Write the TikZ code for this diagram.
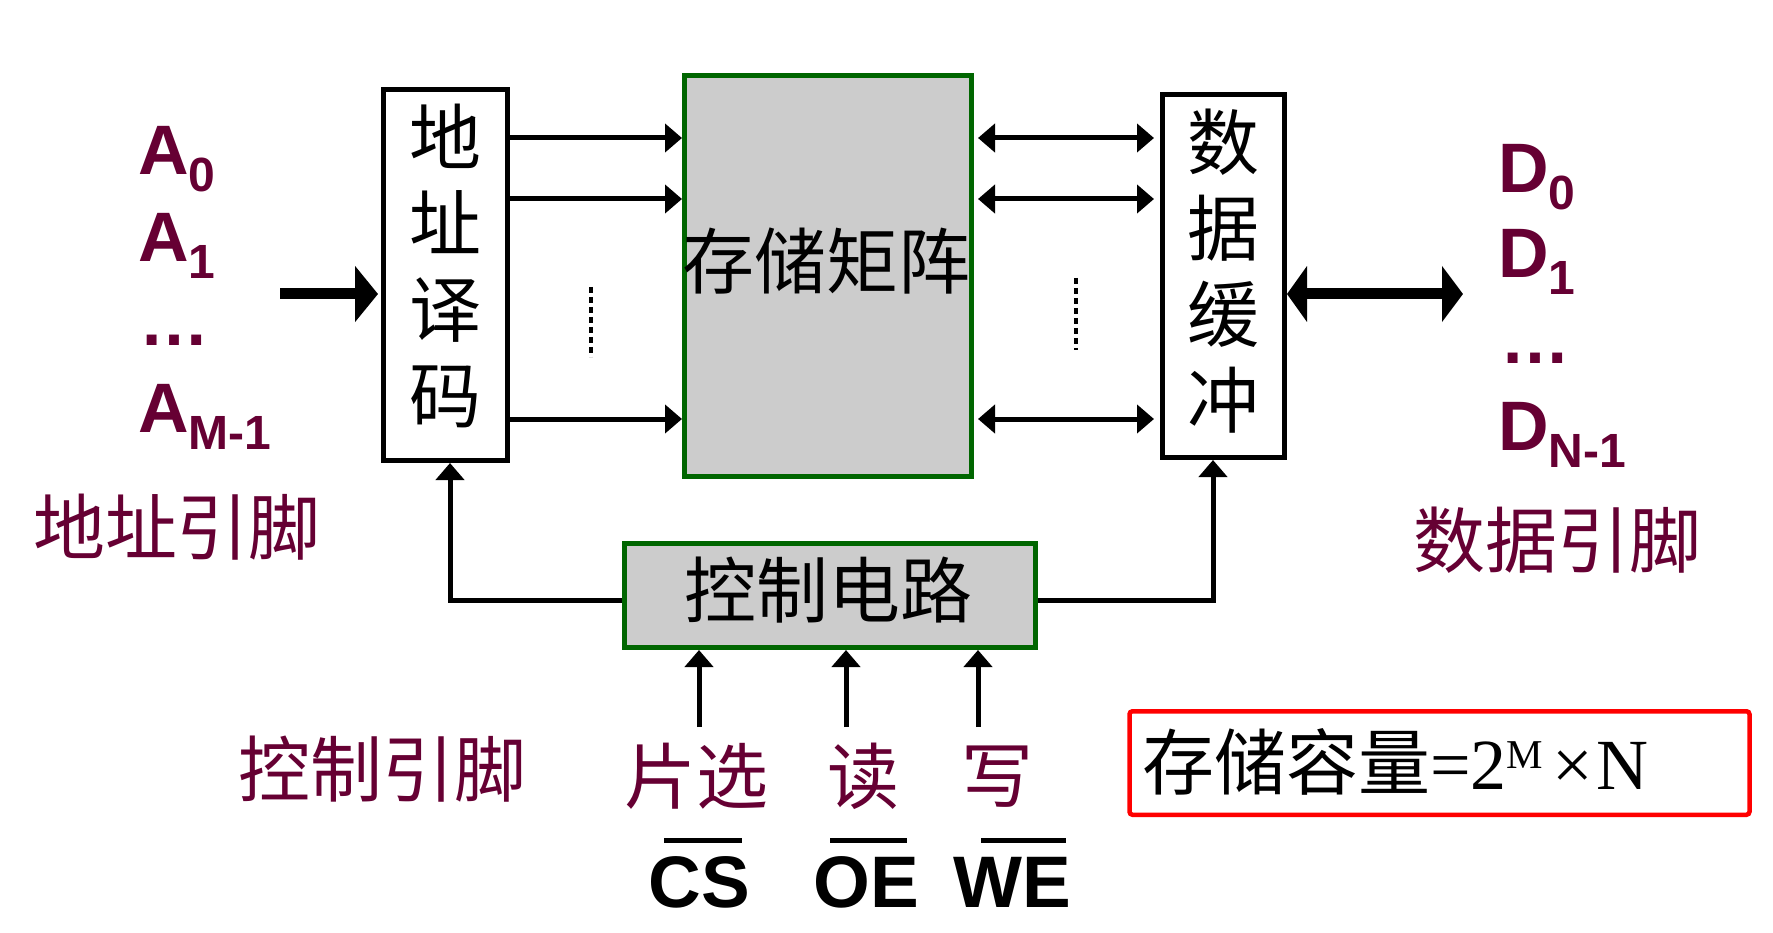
\documentclass[tikz,border=0pt]{standalone}
\usepackage{fontspec}
\usepackage{graphicx}
\setmainfont{Liberation Sans}
\newfontfamily\cjk{Noto Sans CJK SC}
\newfontfamily\tnr{Liberation Serif}
\usetikzlibrary{arrows.meta}
\definecolor{pinred}{RGB}{102,0,51}
\definecolor{dkgreen}{RGB}{0,102,0}
\definecolor{boxgray}{RGB}{204,204,204}
\newcommand\fsz[1]{\fontsize{#1}{#1}\selectfont}
\newcommand\lsub[1]{\raisebox{-17pt}{\fsz{48pt}#1}}
\begin{document}
\begin{tikzpicture}[x=1pt,y=-1pt,
  blk/.style={draw=black,line width=5pt,fill=white,inner sep=0pt},
  gbox/.style={draw=dkgreen,fill=boxgray,line width=5pt,inner sep=0pt},
  cjktxt/.style={font={\cjk\fontsize{72pt}{86pt}\selectfont},inner sep=0pt,align=center},
  conn/.style={line width=5pt,-{Triangle[length=17pt,width=28pt]}},
  bidir/.style={line width=5pt,{Triangle[length=17pt,width=28pt]}-{Triangle[length=17pt,width=28pt]}},
  bigarr/.style={line width=11pt,-{Triangle[length=23pt,width=55pt]}},
  bigbi/.style={line width=11pt,{Triangle[length=20pt,width=55pt]}-{Triangle[length=21pt,width=55pt]}},
  pinlbl/.style={text=pinred,font=\bfseries\fsz{70pt},inner sep=0pt,anchor=base west},
  pincjk/.style={cjktxt,text=pinred},
  sigtxt/.style={font=\bfseries\fsz{73pt},inner sep=0pt,anchor=base},
  overbar/.style={line width=5pt},
  vdots/.style={line width=4pt,dash pattern=on 6pt off 4pt}
]
\useasboundingbox (0,0) rectangle (1773,933);
% boxes
\node[blk,minimum width=124pt,minimum height=371pt] (dec) at (445.5,275) {};
\node[cjktxt] (dectxt) at (445.5,266) {地\\址\\译\\码};
\node[gbox,minimum width=287pt,minimum height=401pt] (mem) at (828,276) {};
\node[cjktxt] (memtxt) at (826,261) {存储矩阵};
\node[blk,minimum width=122pt,minimum height=363pt] (buf) at (1223.5,276) {};
\node[cjktxt] (buftxt) at (1223.5,271) {数\\据\\缓\\冲};
\node[gbox,minimum width=411pt,minimum height=104pt] (ctrl) at (830,595.5) {};
\node[cjktxt] (ctrltxt) at (828,590) {控制电路};
% address pins
\node[pinlbl] (a0) at (138,175) {A\lsub{0}};
\node[pinlbl] (a1) at (138,262) {A\lsub{1}};
\node[pinlbl] (adots) at (139,346) {…};
\node[pinlbl] (am) at (138,432) {A\lsub{M-1}};
\node[pincjk] (alab) at (177,527.5) {地址引脚};
% data pins
\node[pinlbl] (d0) at (1498,193) {D\lsub{0}};
\node[pinlbl] (d1) at (1498,278) {D\lsub{1}};
\node[pinlbl] (ddots) at (1500,363) {…};
\node[pinlbl] (dn) at (1498,450) {D\lsub{N-1}};
\node[pincjk] (dlab) at (1557,540) {数据引脚};
% control pins
\node[pincjk] (clab) at (382,769) {控制引脚};
\node[pincjk] (cs1) at (696.5,776.5) {片选};
\node[pincjk] (oe1) at (863,776.5) {读};
\node[pincjk] (we1) at (997.5,776.5) {写};
\node[sigtxt] (cs) at (699,907) {CS};
\node[sigtxt] (oe) at (866,907) {OE};
\node[sigtxt] (we) at (1012.5,907) {WE};
\draw[overbar] (664,840) -- (742,840);
\draw[overbar] (830,840) -- (907,840);
\draw[overbar] (981,840) -- (1066,840);
% capacity
\node[draw=red,line width=4.5pt,rounded corners=3pt,minimum width=620pt,minimum height=103.5pt,inner sep=0pt] (cap) at (1439.5,763) {};
\node[anchor=base west,inner sep=0pt] (captxt) at (1142,789) {{\cjk\fsz{72pt}存储容量}{\tnr\fsz{72pt}=2\raisebox{21pt}{\fsz{41pt}M}\hspace{9pt}×\hspace{4pt}N}};
% connectors
\coordinate (ain) at (280,294);
\draw[bigarr,shorten >=3pt] (ain) -- (ain -| dec.west);
\foreach \y in {138,199,419}{
  \draw[conn] (dec.east |- 0,\y) -- (mem.west |- 0,\y);
  \draw[bidir,shorten <=4pt,shorten >=6pt] (mem.east |- 0,\y) -- (buf.west |- 0,\y);
}
\coordinate (dout) at (1463,294);
\draw[bigbi] (buf.east |- dout) -- (dout);
\coordinate (cL) at (450,600);
\coordinate (cR) at (1213,600);
\draw[conn] (ctrl.west |- cL) -- (cL) -- (cL |- dec.south);
\draw[conn] (ctrl.east |- cR) -- (cR) -- (cR |- buf.south);
\coordinate (ucs) at (699,727);
\coordinate (uoe) at (846,727);
\coordinate (uwe) at (978,727);
\draw[conn] (ucs) -- (ucs |- ctrl.south);
\draw[conn] (uoe) -- (uoe |- ctrl.south);
\draw[conn] (uwe) -- (uwe |- ctrl.south);
\draw[vdots] (591,287) -- (591,357);
\draw[vdots] (1076,278) -- (1076,350);
\end{tikzpicture}
\end{document}
